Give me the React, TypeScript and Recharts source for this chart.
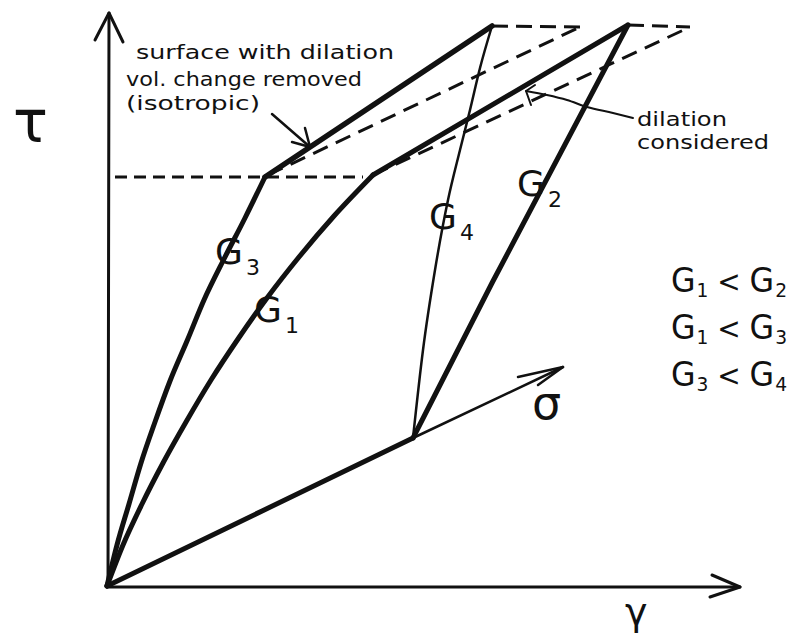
import { ComposedChart, Line, XAxis, YAxis, ReferenceDot } from "recharts"

type Pt = { x: number; y: number }

// γ runs along x, τ up the y axis; units are arbitrary sketch units
const tauAxis: Pt[] = [{ x: 0.1, y: 0 }, { x: 0.2, y: 57.3 }]
const tauHead: Pt[] = [{ x: -1.2, y: 54.6 }, { x: 0.2, y: 57.3 }, { x: 1.6, y: 54.4 }]
const gammaAxis: Pt[] = [{ x: 0, y: -0.1 }, { x: 63.3, y: -0.1 }]
const gammaHead: Pt[] = [{ x: 60.5, y: 1.1 }, { x: 63.3, y: -0.1 }, { x: 60.3, y: -1.1 }]

// normal stress σ path: loaded part, then the arrow beyond it
const sigmaLoad: Pt[] = [{ x: 0, y: 0 }, { x: 30.6, y: 14.8 }]
const sigmaAxis: Pt[] = [{ x: 30.6, y: 14.8 }, { x: 45.6, y: 21.9 }]
const sigmaHead: Pt[] = [{ x: 41.1, y: 20.9 }, { x: 45.6, y: 21.9 }, { x: 43.1, y: 20.1 }]

// stress paths
const g3Curve: Pt[] = [
  { x: 0, y: 0 }, { x: 1.0, y: 4.1 }, { x: 2.2, y: 8.2 }, { x: 3.4, y: 12.3 },
  { x: 4.8, y: 16.4 }, { x: 6.3, y: 20.5 }, { x: 8.0, y: 24.5 }, { x: 9.7, y: 28.6 },
  { x: 11.7, y: 32.7 }, { x: 13.8, y: 36.8 }, { x: 15.8, y: 40.9 },
]
const g3Top: Pt[] = [{ x: 15.8, y: 40.9 }, { x: 38.5, y: 56.0 }]
const g1Curve: Pt[] = [
  { x: 0, y: 0 }, { x: 1.6, y: 4.1 }, { x: 3.5, y: 8.2 }, { x: 5.6, y: 12.3 },
  { x: 7.9, y: 16.4 }, { x: 10.4, y: 20.6 }, { x: 13.1, y: 24.7 }, { x: 16.0, y: 28.8 },
  { x: 19.2, y: 32.9 }, { x: 22.7, y: 37.0 }, { x: 26.6, y: 41.1 },
]
const g1Top: Pt[] = [{ x: 26.6, y: 41.1 }, { x: 52.1, y: 56.1 }]
const g2Path: Pt[] = [{ x: 30.6, y: 14.8 }, { x: 38.5, y: 30.3 }, { x: 52.1, y: 56.1 }]
const g4Path: Pt[] = [
  { x: 30.6, y: 14.8 }, { x: 31.6, y: 23.6 }, { x: 32.8, y: 31.6 }, { x: 34.1, y: 38.6 },
  { x: 35.3, y: 43.6 }, { x: 36.3, y: 47.6 }, { x: 37.3, y: 51.8 }, { x: 38.5, y: 56.0 },
]

// dashed construction lines
const yieldLevel: Pt[] = [{ x: 0.8, y: 40.9 }, { x: 25.6, y: 40.9 }]
const capLeft: Pt[] = [{ x: 38.5, y: 56.0 }, { x: 47.3, y: 55.9 }]
const capRight: Pt[] = [{ x: 52.1, y: 56.1 }, { x: 58.3, y: 55.9 }]
const isoSurface: Pt[] = [{ x: 16.1, y: 41.1 }, { x: 47.3, y: 55.9 }]
const dilSurface: Pt[] = [{ x: 26.6, y: 41.1 }, { x: 58.3, y: 55.9 }]

// callout arrows
const surfaceLeader: Pt[] = [{ x: 16.5, y: 47.2 }, { x: 20.3, y: 43.9 }]
const surfaceHead: Pt[] = [{ x: 18.5, y: 44.4 }, { x: 20.3, y: 43.9 }, { x: 19.8, y: 45.8 }]
const dilationLeader: Pt[] = [
  { x: 41.9, y: 49.5 }, { x: 44.0, y: 49.1 }, { x: 46.0, y: 48.6 },
  { x: 48.0, y: 47.9 }, { x: 50.6, y: 47.3 }, { x: 52.6, y: 46.8 },
]
const dilationHead: Pt[] = [{ x: 42.8, y: 50.1 }, { x: 41.9, y: 49.5 }, { x: 42.4, y: 48.1 }]

type Part = { t: string; size: number; dy?: number; dx?: number }
type Note = { id: string; x: number; y: number; parts: Part[]; len?: number }

const G = (sub: string, big = 36, small = 22, drop = 11, gap = 3): Part[] => [
  { t: "G", size: big },
  { t: sub, size: small, dy: drop, dx: gap },
]

// G_a < G_b, drawn as one line of text
const rel = (a: string, b: string): Part[] => [
  ...G(a, 34, 20, 5, 1),
  { t: " < ", size: 30, dy: -5 },
  ...G(b, 34, 20, 5, 1),
]

const notes: Note[] = [
  { id: "s1", x: 3.0, y: 52.6, parts: [{ t: "surface with dilation", size: 19 }], len: 258 },
  { id: "s2", x: 2.0, y: 49.9, parts: [{ t: "vol. change removed", size: 19 }], len: 236 },
  { id: "s3", x: 2.0, y: 47.5, parts: [{ t: "(isotropic)", size: 19 }], len: 134 },
  { id: "d1", x: 53.1, y: 45.9, parts: [{ t: "dilation", size: 20 }], len: 90 },
  { id: "d2", x: 53.1, y: 43.6, parts: [{ t: "considered", size: 20 }], len: 132 },
  { id: "g3", x: 10.9, y: 32.1, parts: G("3") },
  { id: "g1", x: 14.8, y: 26.3, parts: G("1") },
  { id: "g4", x: 32.3, y: 35.6, parts: G("4") },
  { id: "g2", x: 41.1, y: 38.9, parts: G("2") },
  { id: "r1", x: 56.5, y: 29.3, parts: rel("1", "2"), len: 116 },
  { id: "r2", x: 56.5, y: 24.6, parts: rel("1", "3"), len: 116 },
  { id: "r3", x: 56.5, y: 19.9, parts: rel("3", "4"), len: 116 },
  { id: "tau", x: -9.3, y: 44.3, parts: [{ t: "τ", size: 58 }] },
  { id: "sigma", x: 42.6, y: 16.6, parts: [{ t: "σ", size: 46 }] },
  { id: "gamma", x: 51.9, y: -4.0, parts: [{ t: "γ", size: 38 }] },
]

const INK = "#111"

const stroke = (key: string, data: Pt[], width: number, opts: { dash?: string; curve?: boolean } = {}) => (
  <Line
    key={key}
    data={data}
    dataKey="y"
    type={opts.curve ? "monotone" : "linear"}
    stroke={INK}
    strokeWidth={width}
    strokeDasharray={opts.dash}
    strokeLinecap={opts.dash ? "butt" : "round"}
    strokeLinejoin="round"
    dot={false}
    activeDot={false}
    legendType="none"
    isAnimationActive={false}
  />
)

const renderNote = (note: Note) => (props: any) => {
  const vb = props.viewBox || {}
  return (
    <text
      x={vb.x}
      y={vb.y}
      fill={INK}
      fontFamily="DejaVu Sans, sans-serif"
      textLength={note.len}
      lengthAdjust={note.len ? "spacingAndGlyphs" : undefined}
    >
      {note.parts.map((p, i) => (
        <tspan key={i} fontSize={p.size} dy={p.dy ?? 0} dx={p.dx ?? 0}>
          {p.t}
        </tspan>
      ))}
    </text>
  )
}

export default function App() {
  return (
    <ComposedChart width={796} height={634} margin={{ top: 0, right: 0, bottom: 0, left: 0 }}>
      <XAxis type="number" dataKey="x" domain={[-9.9, 69.7]} allowDataOverflow hide />
      <YAxis type="number" dataKey="y" domain={[-5.6, 57.8]} allowDataOverflow hide />

      {stroke("tauAxis", tauAxis, 3)}
      {stroke("tauHead", tauHead, 3)}
      {stroke("gammaAxis", gammaAxis, 3)}
      {stroke("gammaHead", gammaHead, 3)}

      {stroke("yieldLevel", yieldLevel, 3, { dash: "12 7" })}
      {stroke("capLeft", capLeft, 3, { dash: "16 8" })}
      {stroke("capRight", capRight, 3, { dash: "16 8" })}
      {stroke("isoSurface", isoSurface, 3, { dash: "16 9" })}
      {stroke("dilSurface", dilSurface, 3, { dash: "16 9" })}

      {stroke("sigmaLoad", sigmaLoad, 5)}
      {stroke("sigmaAxis", sigmaAxis, 2.5)}
      {stroke("sigmaHead", sigmaHead, 2.5)}

      {stroke("g3Curve", g3Curve, 5, { curve: true })}
      {stroke("g3Top", g3Top, 5.5)}
      {stroke("g1Curve", g1Curve, 5, { curve: true })}
      {stroke("g1Top", g1Top, 5)}
      {stroke("g2Path", g2Path, 5)}
      {stroke("g4Path", g4Path, 2.5, { curve: true })}

      {stroke("surfaceLeader", surfaceLeader, 2.5)}
      {stroke("surfaceHead", surfaceHead, 2.5)}
      {stroke("dilationLeader", dilationLeader, 2, { curve: true })}
      {stroke("dilationHead", dilationHead, 2)}

      {notes.map((n) => (
        <ReferenceDot
          key={n.id}
          x={n.x}
          y={n.y}
          r={1}
          fill="none"
          stroke="none"
          label={{ content: renderNote(n) }}
        />
      ))}
    </ComposedChart>
  )
}
